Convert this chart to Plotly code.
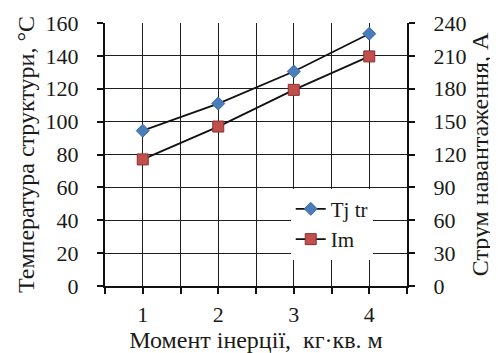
import plotly.graph_objects as go

x_vals = [1, 2, 3, 4]
x_labels = ["1", "2", "3", "4"]
tj_tr = [94.5, 111, 130.5, 153.5]
im = [115.5, 145.5, 179, 209.5]

left_ticks = [0, 20, 40, 60, 80, 100, 120, 140, 160]
right_ticks = [0, 30, 60, 90, 120, 150, 180, 210, 240]

grid_x = [0.5 + 0.5 * i for i in range(9)]
grid_text = [x_labels[x_vals.index(v)] if v in x_vals else "" for v in grid_x]

FONT = "Liberation Serif"
TXT = "#1a1a1a"
tickfont = dict(family=FONT, size=22, color=TXT)
titlefont = dict(family=FONT, size=24, color=TXT)

fig = go.Figure()
fig.add_trace(go.Scatter(
    x=x_vals, y=tj_tr, name="Tj tr", mode="lines+markers",
    line=dict(color="#111111", width=1.8),
    marker=dict(symbol="diamond", size=10, color="#4a7ebb",
                line=dict(color="#3a6aa5", width=1)),
    yaxis="y"))
fig.add_trace(go.Scatter(
    x=x_vals, y=im, name="Im", mode="lines+markers",
    line=dict(color="#111111", width=1.8),
    marker=dict(symbol="square", size=11, color="#c0504d",
                line=dict(color="#8c2f2c", width=1)),
    yaxis="y2"))

# the page body adds an 8px offset at top-left
fig.update_layout(
    width=490, height=345,
    margin=dict(l=97, r=91, t=15, b=67, autoexpand=False),
    paper_bgcolor="white", plot_bgcolor="white",
    font=dict(family=FONT, size=22, color=TXT),
    showlegend=True,
    legend=dict(x=0.615, y=0.37, xanchor="left", yanchor="top",
                bgcolor="white", borderwidth=0,
                font=dict(family=FONT, size=21, color=TXT),
                tracegroupgap=0, itemwidth=30),
    xaxis=dict(range=[0.5, 4.5], tickmode="array", tickvals=grid_x, ticktext=grid_text,
               showgrid=True, gridcolor="#1e1e1e", gridwidth=1.2,
               showline=True, linecolor="#111111", linewidth=2,
               ticks="outside", ticklen=6, tickcolor="#111111", tickwidth=2,
               ticklabelstandoff=2, tickfont=tickfont, automargin=False,
               zeroline=False,
               title=dict(text="Момент інерції,  кг·кв. м", font=titlefont, standoff=0)),
    yaxis=dict(range=[0, 160], tickmode="array", tickvals=left_ticks,
               showgrid=True, gridcolor="#1e1e1e", gridwidth=1.2,
               showline=True, linecolor="#111111", linewidth=2,
               ticks="outside", ticklen=6, tickcolor="#111111", tickwidth=2,
               ticklabelstandoff=14, tickfont=tickfont, automargin=False,
               zeroline=False,
               title=dict(text="Температура структури, °С", font=titlefont, standoff=4)),
    yaxis2=dict(range=[0, 240], tickmode="array", tickvals=right_ticks,
                overlaying="y", side="right", showgrid=False,
                showline=True, linecolor="#111111", linewidth=2,
                ticks="outside", ticklen=6, tickcolor="#111111", tickwidth=2,
                ticklabelstandoff=14, tickfont=tickfont, automargin=False,
                zeroline=False,
                title=dict(text="Струм навантаження, А", font=titlefont, standoff=6)),
)

fig.write_html("out.html")
